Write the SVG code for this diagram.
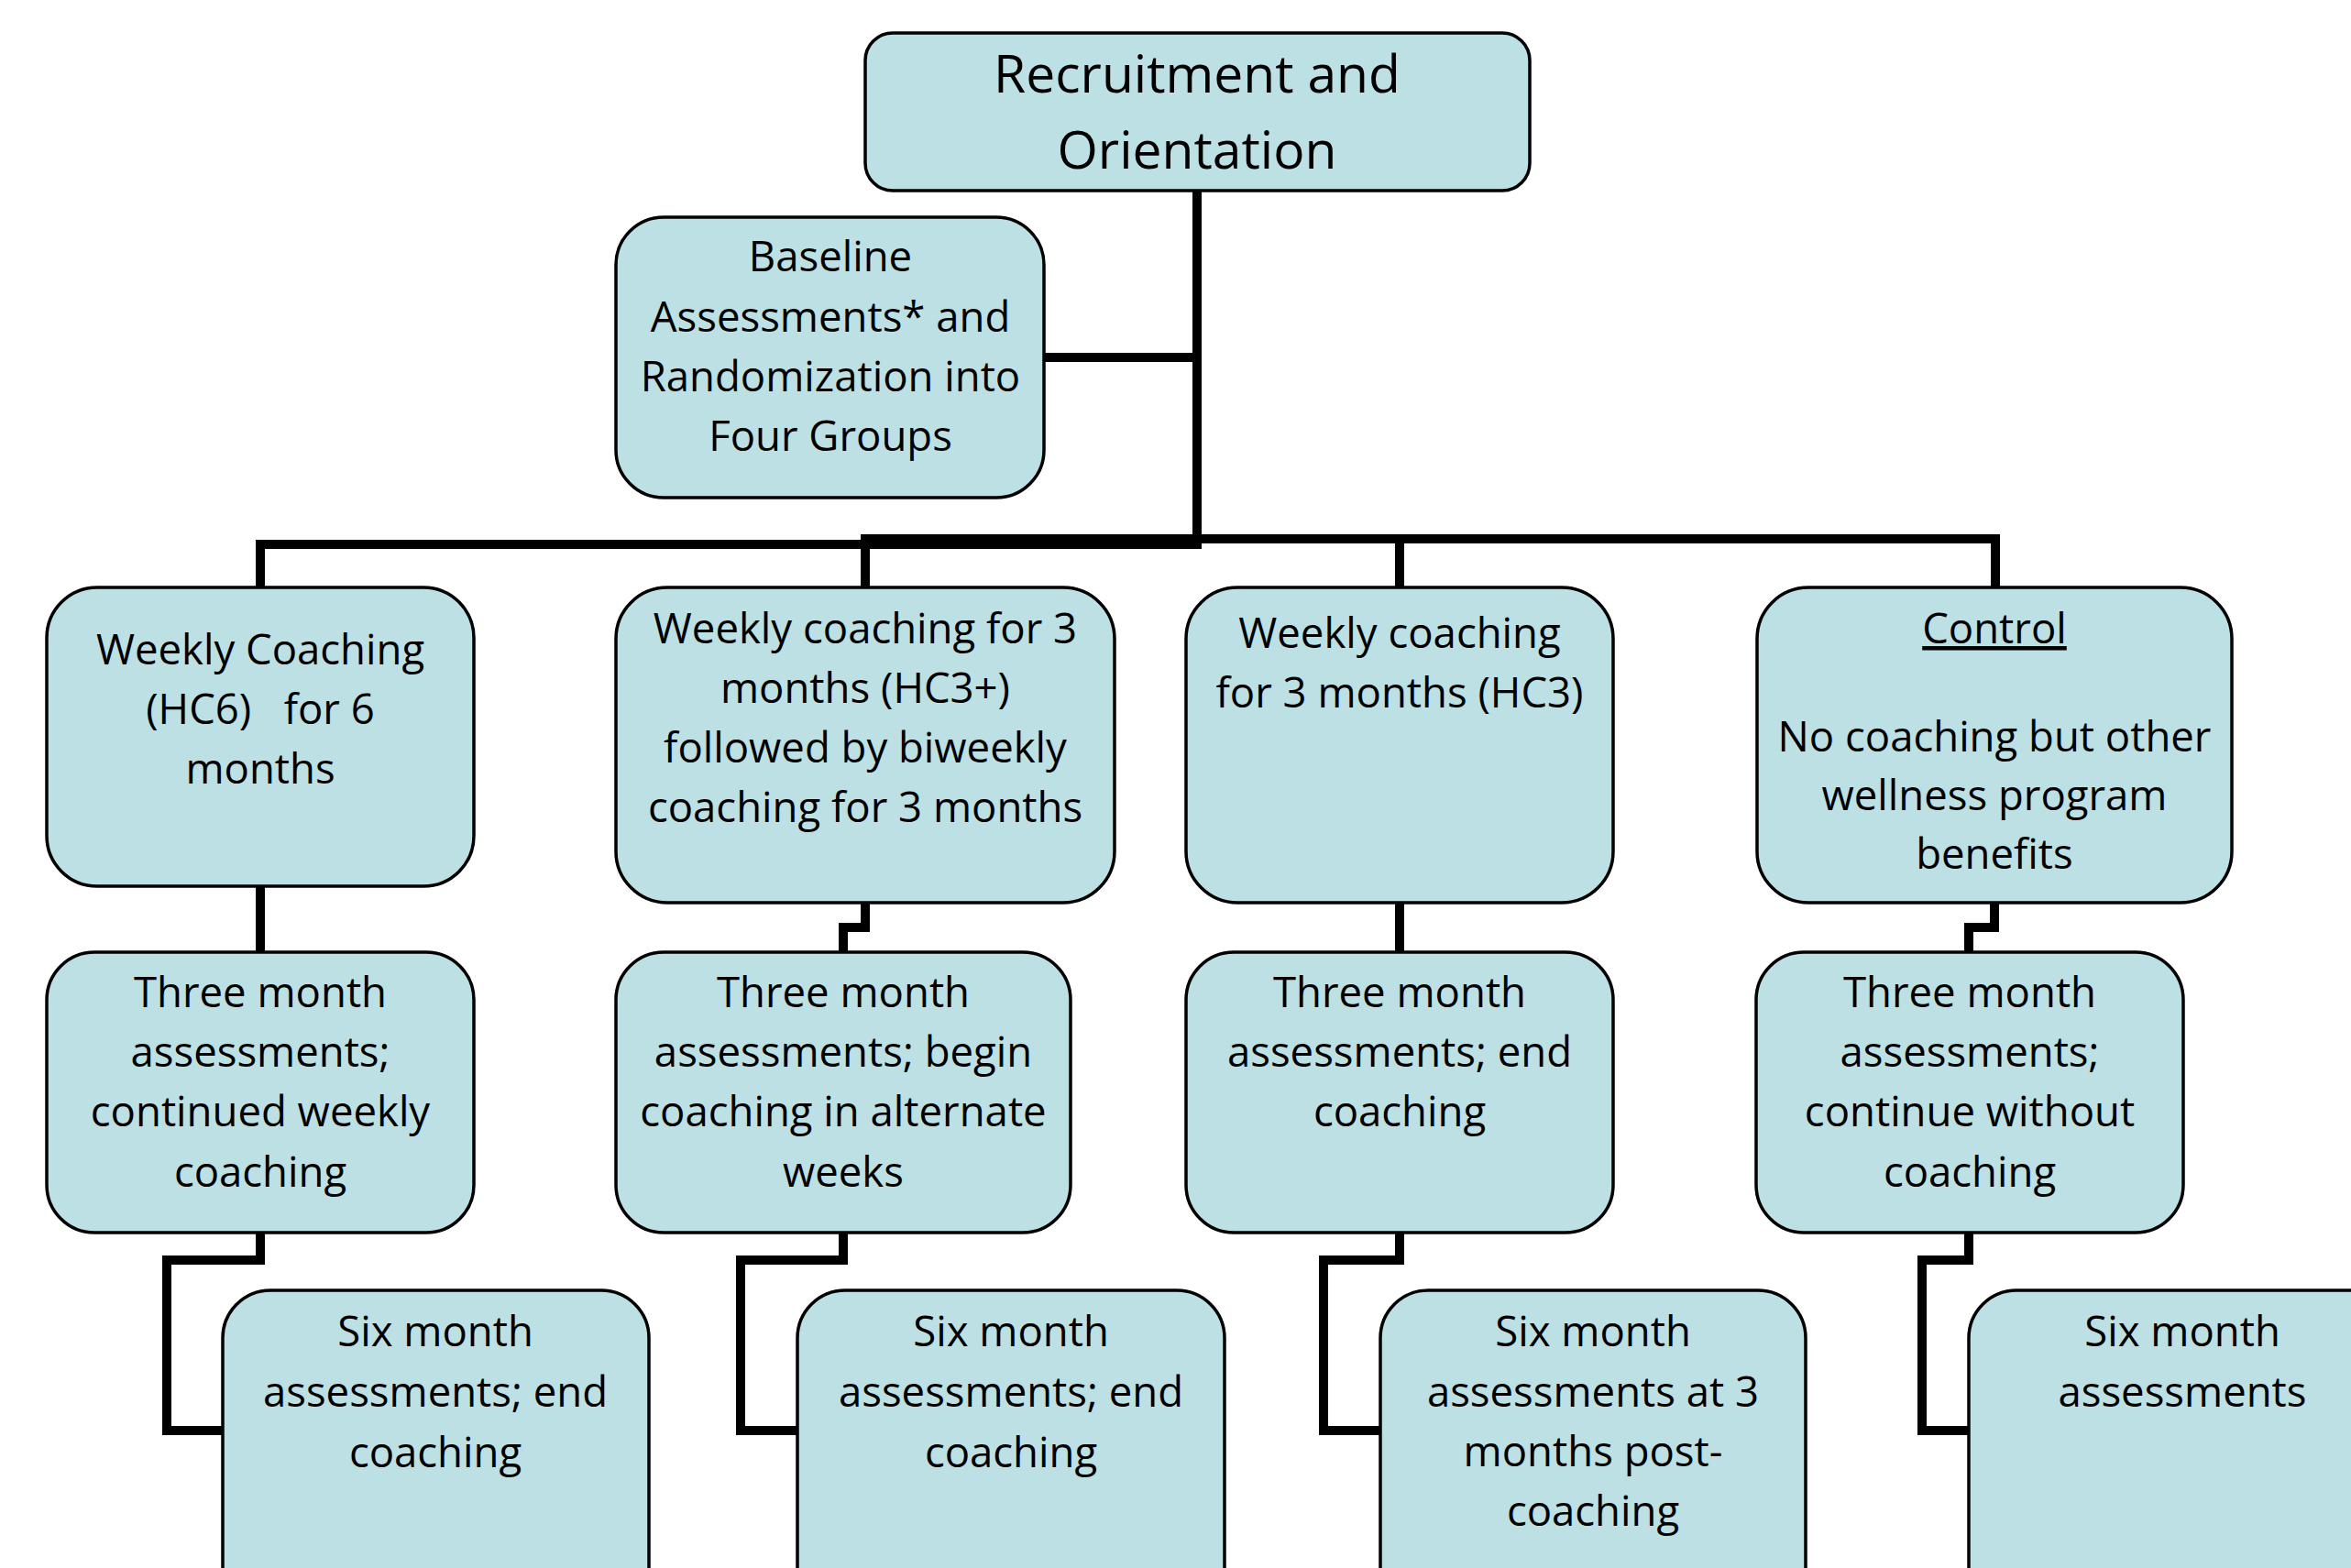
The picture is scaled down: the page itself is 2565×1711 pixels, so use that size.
<svg xmlns="http://www.w3.org/2000/svg" width="2565" height="1711" viewBox="0 0 2565 1711">
<style>
.box{fill:#BCE0E3;stroke:#000;stroke-width:3.5}
.lbl{font-family:"Open Sans","Noto Sans",sans-serif;font-size:45.5px;fill:#000;text-anchor:middle}
.big{font-size:57px}
.con{fill:none;stroke:#000;stroke-width:10;stroke-linejoin:miter;stroke-linecap:butt}
</style>
<rect width="2565" height="1711" fill="#fff"/>
<g id="connectors">
<path class="con" d="M1306 208 V599"/>
<path class="con" d="M1139 390 H1306"/>
<path class="con" d="M284 641 V594 H1306"/>
<path class="con" d="M944 641 V588 H2177 V641"/>
<path class="con" d="M1527 588 V641"/>
<path class="con" d="M284 967 V1039"/>
<path class="con" d="M944 985 V1012 H920 V1039"/>
<path class="con" d="M1527 985 V1039"/>
<path class="con" d="M2176 985 V1012 H2148 V1039"/>
<path class="con" d="M284 1345 V1375 H182 V1561 H243"/>
<path class="con" d="M920 1345 V1375 H808 V1561 H870"/>
<path class="con" d="M1527 1345 V1375 H1444 V1561 H1506"/>
<path class="con" d="M2148 1345 V1375 H2097 V1561 H2148"/>
</g>
<g id="recruitment">
<rect class="box" x="944" y="36" width="725" height="172" rx="30"/>
<text class="lbl big"><tspan x="1306" y="101">Recruitment and</tspan><tspan x="1306" y="184">Orientation</tspan></text>
</g>
<g id="baseline">
<rect class="box" x="672" y="237" width="467" height="306" rx="52"/>
<text class="lbl"><tspan x="906" y="296">Baseline</tspan><tspan x="906" y="362">Assessments* and</tspan><tspan x="906" y="427">Randomization into</tspan><tspan x="906" y="492">Four Groups</tspan></text>
</g>
<g id="hc6">
<rect class="box" x="51" y="641" width="466" height="326" rx="55"/>
<text class="lbl" style="white-space:pre"><tspan x="284" y="725">Weekly Coaching</tspan><tspan x="284" y="790">(HC6)   for 6</tspan><tspan x="284" y="855">months</tspan></text>
</g>
<g id="hc3plus">
<rect class="box" x="672" y="641" width="544" height="344" rx="56"/>
<text class="lbl"><tspan x="944" y="702">Weekly coaching for 3</tspan><tspan x="944" y="767">months (HC3+)</tspan><tspan x="944" y="832">followed by biweekly</tspan><tspan x="944" y="897">coaching for 3 months</tspan></text>
</g>
<g id="hc3">
<rect class="box" x="1294" y="641" width="466" height="344" rx="56"/>
<text class="lbl"><tspan x="1527" y="707">Weekly coaching</tspan><tspan x="1527" y="772">for 3 months (HC3)</tspan></text>
</g>
<g id="control">
<rect class="box" x="1917" y="641" width="518" height="344" rx="56"/>
<text class="lbl" x="2176" y="702" text-decoration="underline">Control</text>
<text class="lbl"><tspan x="2176" y="820">No coaching but other</tspan><tspan x="2176" y="884">wellness program</tspan><tspan x="2176" y="948">benefits</tspan></text>
</g>
<g id="hc6-3m">
<rect class="box" x="51" y="1039" width="466" height="306" rx="52"/>
<text class="lbl"><tspan x="284" y="1099">Three month</tspan><tspan x="284" y="1164">assessments;</tspan><tspan x="284" y="1229">continued weekly</tspan><tspan x="284" y="1295">coaching</tspan></text>
</g>
<g id="hc3plus-3m">
<rect class="box" x="672" y="1039" width="496" height="306" rx="52"/>
<text class="lbl"><tspan x="920" y="1099">Three month</tspan><tspan x="920" y="1164">assessments; begin</tspan><tspan x="920" y="1229">coaching in alternate</tspan><tspan x="920" y="1295">weeks</tspan></text>
</g>
<g id="hc3-3m">
<rect class="box" x="1294" y="1039" width="466" height="306" rx="52"/>
<text class="lbl"><tspan x="1527" y="1099">Three month</tspan><tspan x="1527" y="1164">assessments; end</tspan><tspan x="1527" y="1229">coaching</tspan></text>
</g>
<g id="control-3m">
<rect class="box" x="1916" y="1039" width="466" height="306" rx="52"/>
<text class="lbl"><tspan x="2149" y="1099">Three month</tspan><tspan x="2149" y="1164">assessments;</tspan><tspan x="2149" y="1229">continue without</tspan><tspan x="2149" y="1295">coaching</tspan></text>
</g>
<g id="hc6-6m">
<rect class="box" x="243" y="1408" width="465" height="380" rx="52"/>
<text class="lbl"><tspan x="475" y="1469">Six month</tspan><tspan x="475" y="1535">assessments; end</tspan><tspan x="475" y="1601">coaching</tspan></text>
</g>
<g id="hc3plus-6m">
<rect class="box" x="870" y="1408" width="466" height="380" rx="52"/>
<text class="lbl"><tspan x="1103" y="1469">Six month</tspan><tspan x="1103" y="1535">assessments; end</tspan><tspan x="1103" y="1601">coaching</tspan></text>
</g>
<g id="hc3-6m">
<rect class="box" x="1506" y="1408" width="464" height="380" rx="52"/>
<text class="lbl"><tspan x="1738" y="1469">Six month</tspan><tspan x="1738" y="1535">assessments at 3</tspan><tspan x="1738" y="1600">months post-</tspan><tspan x="1738" y="1665">coaching</tspan></text>
</g>
<g id="control-6m">
<rect class="box" x="2148" y="1408" width="466" height="380" rx="52"/>
<text class="lbl"><tspan x="2381" y="1469">Six month</tspan><tspan x="2381" y="1535">assessments</tspan></text>
</g>
</svg>
